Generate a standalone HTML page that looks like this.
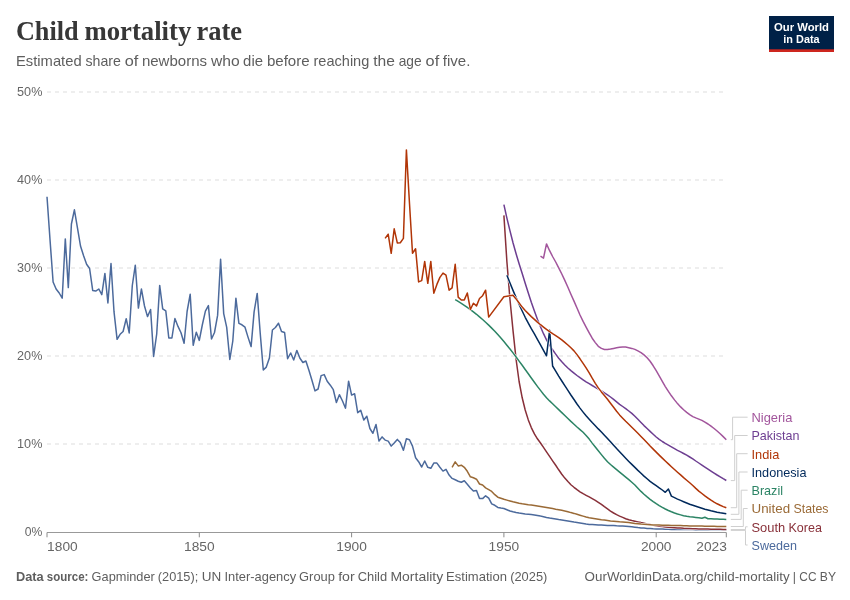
<!DOCTYPE html>
<html lang="en">
<head>
<meta charset="utf-8">
<title>Child mortality rate</title>
<style>
html,body{margin:0;padding:0;background:#fff;}
body{width:850px;height:600px;overflow:hidden;font-family:"Liberation Sans",sans-serif;}
svg{display:block;}
svg text{font-family:"Liberation Sans",sans-serif;}
svg text.serif{font-family:"Liberation Serif",serif;}
.grid line{stroke:#dddddd;stroke-width:1;stroke-dasharray:4,4;}
.lines path{fill:none;stroke-linejoin:round;stroke-linecap:butt;}
.conn path{fill:none;stroke:#cfcfcf;stroke-width:1;}
</style>
</head>
<body>
<svg width="850" height="600" viewBox="0 0 850 600">
<rect width="850" height="600" fill="#ffffff"/>

<text class="serif" y="40.2" font-size="28" font-weight="bold" fill="#373737"><tspan x="15.9" textLength="62.7" lengthAdjust="spacingAndGlyphs">Child</tspan> <tspan x="84.4" textLength="106.9" lengthAdjust="spacingAndGlyphs">mortality</tspan> <tspan x="196.4" textLength="45.6" lengthAdjust="spacingAndGlyphs">rate</tspan></text>
<text y="66.4" font-size="15" fill="#5e5e5e"><tspan x="16.0" textLength="65.6" lengthAdjust="spacingAndGlyphs">Estimated</tspan> <tspan x="85.5" textLength="35.4" lengthAdjust="spacingAndGlyphs">share</tspan> <tspan x="124.7" textLength="13.6" lengthAdjust="spacingAndGlyphs">of</tspan> <tspan x="141.9" textLength="65.2" lengthAdjust="spacingAndGlyphs">newborns</tspan> <tspan x="210.9" textLength="28.7" lengthAdjust="spacingAndGlyphs">who</tspan> <tspan x="243.1" textLength="19.9" lengthAdjust="spacingAndGlyphs">die</tspan> <tspan x="266.9" textLength="42.8" lengthAdjust="spacingAndGlyphs">before</tspan> <tspan x="313.5" textLength="55.8" lengthAdjust="spacingAndGlyphs">reaching</tspan> <tspan x="373.2" textLength="21.7" lengthAdjust="spacingAndGlyphs">the</tspan> <tspan x="398.7" textLength="23.0" lengthAdjust="spacingAndGlyphs">age</tspan> <tspan x="425.6" textLength="13.6" lengthAdjust="spacingAndGlyphs">of</tspan> <tspan x="442.8" textLength="27.6" lengthAdjust="spacingAndGlyphs">five.</tspan></text>
<g><rect x="769" y="16" width="65" height="36" fill="#002147"/><rect x="769" y="49.3" width="65" height="2.7" fill="#ce261e"/>
<text x="801.5" y="30.8" font-size="11.8" fill="#ffffff" text-anchor="middle" font-weight="bold" textLength="55" lengthAdjust="spacingAndGlyphs">Our World</text>
<text x="801.5" y="42.7" font-size="11.8" fill="#ffffff" text-anchor="middle" font-weight="bold" textLength="36.3" lengthAdjust="spacingAndGlyphs">in Data</text>
</g>
<g class="grid">
<line x1="47" y1="92" x2="726.3" y2="92"/>
<line x1="47" y1="180" x2="726.3" y2="180"/>
<line x1="47" y1="268" x2="726.3" y2="268"/>
<line x1="47" y1="356" x2="726.3" y2="356"/>
<line x1="47" y1="444" x2="726.3" y2="444"/>
</g>
<text x="42.4" y="96.1" font-size="12.65" fill="#666666" text-anchor="end" textLength="25.3" lengthAdjust="spacingAndGlyphs">50%</text>
<text x="42.4" y="184.1" font-size="12.65" fill="#666666" text-anchor="end" textLength="25.3" lengthAdjust="spacingAndGlyphs">40%</text>
<text x="42.4" y="272.1" font-size="12.65" fill="#666666" text-anchor="end" textLength="25.3" lengthAdjust="spacingAndGlyphs">30%</text>
<text x="42.4" y="360.1" font-size="12.65" fill="#666666" text-anchor="end" textLength="25.3" lengthAdjust="spacingAndGlyphs">20%</text>
<text x="42.4" y="448.1" font-size="12.65" fill="#666666" text-anchor="end" textLength="25.3" lengthAdjust="spacingAndGlyphs">10%</text>
<text x="42.4" y="536.1" font-size="12.65" fill="#666666" text-anchor="end" textLength="17.6" lengthAdjust="spacingAndGlyphs">0%</text>
<line x1="47" y1="532.5" x2="726.3" y2="532.5" stroke="#999999" stroke-width="1"/>
<line x1="47.0" y1="532.5" x2="47.0" y2="537.3" stroke="#8a8a8a" stroke-width="1"/>
<text x="47.1" y="550.8" font-size="13.1" fill="#666666" textLength="30.6" lengthAdjust="spacingAndGlyphs">1800</text>
<line x1="199.3" y1="532.5" x2="199.3" y2="537.3" stroke="#8a8a8a" stroke-width="1"/>
<text x="199.3" y="550.8" font-size="13.1" fill="#666666" text-anchor="middle" textLength="30.6" lengthAdjust="spacingAndGlyphs">1850</text>
<line x1="351.6" y1="532.5" x2="351.6" y2="537.3" stroke="#8a8a8a" stroke-width="1"/>
<text x="351.6" y="550.8" font-size="13.1" fill="#666666" text-anchor="middle" textLength="30.6" lengthAdjust="spacingAndGlyphs">1900</text>
<line x1="503.9" y1="532.5" x2="503.9" y2="537.3" stroke="#8a8a8a" stroke-width="1"/>
<text x="503.9" y="550.8" font-size="13.1" fill="#666666" text-anchor="middle" textLength="30.6" lengthAdjust="spacingAndGlyphs">1950</text>
<line x1="656.2" y1="532.5" x2="656.2" y2="537.3" stroke="#8a8a8a" stroke-width="1"/>
<text x="656.2" y="550.8" font-size="13.1" fill="#666666" text-anchor="middle" textLength="30.6" lengthAdjust="spacingAndGlyphs">2000</text>
<line x1="726.3" y1="532.5" x2="726.3" y2="537.3" stroke="#8a8a8a" stroke-width="1"/>
<text x="726.9" y="550.8" font-size="13.1" fill="#666666" text-anchor="end" textLength="30.6" lengthAdjust="spacingAndGlyphs">2023</text>
<g class="lines">
<path d="M47.0,196.8 L50.0,239.5 L53.1,282.0 L56.1,289.0 L59.2,293.0 L62.2,298.2 L65.3,238.9 L68.3,287.6 L71.4,224.0 L74.4,209.8 L77.5,228.2 L80.5,246.0 L83.6,255.8 L86.6,264.2 L89.6,268.5 L92.7,290.4 L95.7,291.1 L98.8,289.0 L101.8,294.7 L104.9,273.4 L107.9,302.9 L111.0,263.5 L114.0,311.7 L117.1,339.3 L120.1,334.3 L123.1,331.5 L126.2,318.7 L129.2,332.9 L132.3,285.5 L135.3,265.2 L138.4,308.1 L141.4,289.0 L144.5,306.0 L147.5,316.6 L150.6,309.5 L153.6,356.4 L156.7,334.0 L159.7,285.4 L162.7,308.8 L165.8,310.9 L168.8,338.0 L171.9,338.0 L174.9,318.5 L178.0,326.4 L181.0,332.7 L184.1,343.2 L187.1,311.5 L190.2,294.2 L193.2,345.3 L196.3,332.2 L199.3,340.4 L202.3,325.0 L205.4,311.2 L208.4,305.6 L211.5,339.0 L214.5,332.5 L217.6,315.4 L220.6,259.2 L223.7,313.6 L226.7,327.4 L229.8,359.5 L232.8,341.0 L235.9,298.2 L238.9,323.4 L241.9,324.8 L245.0,327.2 L248.0,337.1 L251.1,346.6 L254.1,311.9 L257.2,293.4 L260.2,333.0 L263.3,370.0 L266.3,367.1 L269.4,358.0 L272.4,330.0 L275.4,327.5 L278.5,323.2 L281.5,331.5 L284.6,332.5 L287.6,358.7 L290.7,353.0 L293.7,360.0 L296.8,350.4 L299.8,358.0 L302.9,362.5 L305.9,361.0 L309.0,370.5 L312.0,380.5 L315.0,390.9 L318.1,389.0 L321.1,375.6 L324.2,374.6 L327.2,381.2 L330.3,385.2 L333.3,389.7 L336.4,402.5 L339.4,394.7 L342.5,401.0 L345.5,408.2 L348.6,381.2 L351.6,395.1 L354.6,393.7 L357.7,412.7 L360.7,410.3 L363.8,420.0 L366.8,416.2 L369.9,428.5 L372.9,433.3 L376.0,424.5 L379.0,441.1 L382.1,436.9 L385.1,440.1 L388.2,441.1 L391.2,446.1 L394.2,443.0 L397.3,439.4 L400.3,442.5 L403.4,450.3 L406.4,438.7 L409.5,439.7 L412.5,446.1 L415.6,457.7 L418.6,461.7 L421.7,467.0 L424.7,461.0 L427.8,467.3 L430.8,468.3 L433.8,463.1 L436.9,463.1 L439.9,467.3 L443.0,471.1 L446.0,469.4 L449.1,475.1 L452.1,478.4 L455.2,479.8 L458.2,481.2 L461.3,482.2 L464.3,480.8 L467.3,484.3 L470.4,487.9 L473.4,491.0 L476.5,490.4 L479.5,498.6 L482.6,498.6 L485.6,495.8 L488.7,498.2 L491.7,503.9 L494.8,505.3 L497.8,507.4 L500.9,508.1 L503.9,508.5 L506.9,509.7 L510.0,511.0 L513.0,511.8 L516.1,512.5 L519.1,513.1 L522.2,513.5 L525.2,513.9 L528.3,514.2 L531.3,514.5 L534.4,514.9 L537.4,515.4 L540.5,516.1 L543.5,516.7 L546.5,517.4 L549.6,518.0 L552.6,518.5 L555.7,519.0 L558.7,519.5 L561.8,519.9 L564.8,520.4 L567.9,520.9 L570.9,521.4 L574.0,522.0 L577.0,522.5 L580.0,523.0 L583.1,523.5 L586.1,524.0 L589.2,524.4 L592.2,524.6 L595.3,524.8 L598.3,525.0 L601.4,525.1 L604.4,525.2 L607.5,525.4 L610.5,525.5 L613.6,525.6 L616.6,525.8 L619.6,525.9 L622.7,526.0 L625.7,526.2 L628.8,526.5 L631.8,526.8 L634.9,527.2 L637.9,527.6 L641.0,527.9 L644.0,528.1 L647.1,528.4 L650.1,528.6 L653.2,528.8 L656.2,528.9 L659.2,529.0 L662.3,529.1 L665.3,529.2 L668.4,529.3 L671.4,529.4 L674.5,529.5 L677.5,529.5 L680.6,529.5 L683.6,529.6 L686.7,529.6 L689.7,529.6 L692.8,529.6 L695.8,529.7 L698.8,529.7 L701.9,529.7 L704.9,529.7 L708.0,529.7 L711.0,529.8 L714.1,529.8 L717.1,529.8 L720.2,529.8 L723.2,529.8 L726.3,529.8" stroke="#ffffff" stroke-width="2.5"/>
<path d="M47.0,196.8 L50.0,239.5 L53.1,282.0 L56.1,289.0 L59.2,293.0 L62.2,298.2 L65.3,238.9 L68.3,287.6 L71.4,224.0 L74.4,209.8 L77.5,228.2 L80.5,246.0 L83.6,255.8 L86.6,264.2 L89.6,268.5 L92.7,290.4 L95.7,291.1 L98.8,289.0 L101.8,294.7 L104.9,273.4 L107.9,302.9 L111.0,263.5 L114.0,311.7 L117.1,339.3 L120.1,334.3 L123.1,331.5 L126.2,318.7 L129.2,332.9 L132.3,285.5 L135.3,265.2 L138.4,308.1 L141.4,289.0 L144.5,306.0 L147.5,316.6 L150.6,309.5 L153.6,356.4 L156.7,334.0 L159.7,285.4 L162.7,308.8 L165.8,310.9 L168.8,338.0 L171.9,338.0 L174.9,318.5 L178.0,326.4 L181.0,332.7 L184.1,343.2 L187.1,311.5 L190.2,294.2 L193.2,345.3 L196.3,332.2 L199.3,340.4 L202.3,325.0 L205.4,311.2 L208.4,305.6 L211.5,339.0 L214.5,332.5 L217.6,315.4 L220.6,259.2 L223.7,313.6 L226.7,327.4 L229.8,359.5 L232.8,341.0 L235.9,298.2 L238.9,323.4 L241.9,324.8 L245.0,327.2 L248.0,337.1 L251.1,346.6 L254.1,311.9 L257.2,293.4 L260.2,333.0 L263.3,370.0 L266.3,367.1 L269.4,358.0 L272.4,330.0 L275.4,327.5 L278.5,323.2 L281.5,331.5 L284.6,332.5 L287.6,358.7 L290.7,353.0 L293.7,360.0 L296.8,350.4 L299.8,358.0 L302.9,362.5 L305.9,361.0 L309.0,370.5 L312.0,380.5 L315.0,390.9 L318.1,389.0 L321.1,375.6 L324.2,374.6 L327.2,381.2 L330.3,385.2 L333.3,389.7 L336.4,402.5 L339.4,394.7 L342.5,401.0 L345.5,408.2 L348.6,381.2 L351.6,395.1 L354.6,393.7 L357.7,412.7 L360.7,410.3 L363.8,420.0 L366.8,416.2 L369.9,428.5 L372.9,433.3 L376.0,424.5 L379.0,441.1 L382.1,436.9 L385.1,440.1 L388.2,441.1 L391.2,446.1 L394.2,443.0 L397.3,439.4 L400.3,442.5 L403.4,450.3 L406.4,438.7 L409.5,439.7 L412.5,446.1 L415.6,457.7 L418.6,461.7 L421.7,467.0 L424.7,461.0 L427.8,467.3 L430.8,468.3 L433.8,463.1 L436.9,463.1 L439.9,467.3 L443.0,471.1 L446.0,469.4 L449.1,475.1 L452.1,478.4 L455.2,479.8 L458.2,481.2 L461.3,482.2 L464.3,480.8 L467.3,484.3 L470.4,487.9 L473.4,491.0 L476.5,490.4 L479.5,498.6 L482.6,498.6 L485.6,495.8 L488.7,498.2 L491.7,503.9 L494.8,505.3 L497.8,507.4 L500.9,508.1 L503.9,508.5 L506.9,509.7 L510.0,511.0 L513.0,511.8 L516.1,512.5 L519.1,513.1 L522.2,513.5 L525.2,513.9 L528.3,514.2 L531.3,514.5 L534.4,514.9 L537.4,515.4 L540.5,516.1 L543.5,516.7 L546.5,517.4 L549.6,518.0 L552.6,518.5 L555.7,519.0 L558.7,519.5 L561.8,519.9 L564.8,520.4 L567.9,520.9 L570.9,521.4 L574.0,522.0 L577.0,522.5 L580.0,523.0 L583.1,523.5 L586.1,524.0 L589.2,524.4 L592.2,524.6 L595.3,524.8 L598.3,525.0 L601.4,525.1 L604.4,525.2 L607.5,525.4 L610.5,525.5 L613.6,525.6 L616.6,525.8 L619.6,525.9 L622.7,526.0 L625.7,526.2 L628.8,526.5 L631.8,526.8 L634.9,527.2 L637.9,527.6 L641.0,527.9 L644.0,528.1 L647.1,528.4 L650.1,528.6 L653.2,528.8 L656.2,528.9 L659.2,529.0 L662.3,529.1 L665.3,529.2 L668.4,529.3 L671.4,529.4 L674.5,529.5 L677.5,529.5 L680.6,529.5 L683.6,529.6 L686.7,529.6 L689.7,529.6 L692.8,529.6 L695.8,529.7 L698.8,529.7 L701.9,529.7 L704.9,529.7 L708.0,529.7 L711.0,529.8 L714.1,529.8 L717.1,529.8 L720.2,529.8 L723.2,529.8 L726.3,529.8" stroke="#4c6a9c" stroke-width="1.5"/>
<path d="M503.9,215.4 L506.9,261.7 L510.0,299.7 L513.0,330.4 L516.1,359.5 L519.1,381.5 L522.2,397.8 L525.2,410.0 L528.3,419.9 L531.3,427.6 L534.4,433.9 L537.4,438.8 L540.5,443.0 L543.5,447.4 L546.5,451.9 L549.6,456.4 L552.6,460.8 L555.7,465.3 L558.7,469.8 L561.8,474.2 L564.8,478.1 L567.9,481.6 L570.9,484.7 L574.0,487.3 L577.0,489.7 L580.0,491.8 L583.1,493.7 L586.1,495.3 L589.2,496.9 L592.2,498.6 L595.3,500.3 L598.3,502.3 L601.4,504.4 L604.4,506.7 L607.5,508.9 L610.5,511.1 L613.6,513.0 L616.6,514.6 L619.6,516.1 L622.7,517.4 L625.7,518.7 L628.8,519.7 L631.8,520.5 L634.9,521.2 L637.9,521.9 L641.0,522.6 L644.0,523.2 L647.1,524.0 L650.1,524.6 L653.2,525.3 L656.2,525.8 L659.2,526.2 L662.3,526.6 L665.3,526.9 L668.4,527.2 L671.4,527.5 L674.5,527.7 L677.5,527.9 L680.6,528.1 L683.6,528.3 L686.7,528.4 L689.7,528.5 L692.8,528.7 L695.8,528.8 L698.8,528.9 L701.9,529.0 L704.9,529.0 L708.0,529.1 L711.0,529.2 L714.1,529.2 L717.1,529.3 L720.2,529.3 L723.2,529.4 L726.3,529.4" stroke="#ffffff" stroke-width="2.5"/>
<path d="M503.9,215.4 L506.9,261.7 L510.0,299.7 L513.0,330.4 L516.1,359.5 L519.1,381.5 L522.2,397.8 L525.2,410.0 L528.3,419.9 L531.3,427.6 L534.4,433.9 L537.4,438.8 L540.5,443.0 L543.5,447.4 L546.5,451.9 L549.6,456.4 L552.6,460.8 L555.7,465.3 L558.7,469.8 L561.8,474.2 L564.8,478.1 L567.9,481.6 L570.9,484.7 L574.0,487.3 L577.0,489.7 L580.0,491.8 L583.1,493.7 L586.1,495.3 L589.2,496.9 L592.2,498.6 L595.3,500.3 L598.3,502.3 L601.4,504.4 L604.4,506.7 L607.5,508.9 L610.5,511.1 L613.6,513.0 L616.6,514.6 L619.6,516.1 L622.7,517.4 L625.7,518.7 L628.8,519.7 L631.8,520.5 L634.9,521.2 L637.9,521.9 L641.0,522.6 L644.0,523.2 L647.1,524.0 L650.1,524.6 L653.2,525.3 L656.2,525.8 L659.2,526.2 L662.3,526.6 L665.3,526.9 L668.4,527.2 L671.4,527.5 L674.5,527.7 L677.5,527.9 L680.6,528.1 L683.6,528.3 L686.7,528.4 L689.7,528.5 L692.8,528.7 L695.8,528.8 L698.8,528.9 L701.9,529.0 L704.9,529.0 L708.0,529.1 L711.0,529.2 L714.1,529.2 L717.1,529.3 L720.2,529.3 L723.2,529.4 L726.3,529.4" stroke="#883039" stroke-width="1.5"/>
<path d="M503.9,204.7 L506.9,218.2 L510.0,230.9 L513.0,242.8 L516.1,253.8 L519.1,263.8 L522.2,273.5 L525.2,283.3 L528.3,293.1 L531.3,302.3 L534.4,311.1 L537.4,319.2 L540.5,326.7 L543.5,333.7 L546.5,339.9 L549.6,345.2 L552.6,349.8 L555.7,354.1 L558.7,358.2 L561.8,361.8 L564.8,365.0 L567.9,368.0 L570.9,370.6 L574.0,373.1 L577.0,375.5 L580.0,377.7 L583.1,379.8 L586.1,381.8 L589.2,383.7 L592.2,385.5 L595.3,387.3 L598.3,389.1 L601.4,391.0 L604.4,392.9 L607.5,394.9 L610.5,397.0 L613.6,399.3 L616.6,401.8 L619.6,404.3 L622.7,406.5 L625.7,408.7 L628.8,411.0 L631.8,413.4 L634.9,416.3 L637.9,419.3 L641.0,422.5 L644.0,425.6 L647.1,428.5 L650.1,431.4 L653.2,434.3 L656.2,437.0 L659.2,439.4 L662.3,441.5 L665.3,443.4 L668.4,445.2 L671.4,446.9 L674.5,448.6 L677.5,450.3 L680.6,451.9 L683.6,453.5 L686.7,455.2 L689.7,457.0 L692.8,458.9 L695.8,461.0 L698.8,463.0 L701.9,465.1 L704.9,467.1 L708.0,469.1 L711.0,471.1 L714.1,473.1 L717.1,475.0 L720.2,476.8 L723.2,478.7 L726.3,480.5" stroke="#ffffff" stroke-width="2.5"/>
<path d="M503.9,204.7 L506.9,218.2 L510.0,230.9 L513.0,242.8 L516.1,253.8 L519.1,263.8 L522.2,273.5 L525.2,283.3 L528.3,293.1 L531.3,302.3 L534.4,311.1 L537.4,319.2 L540.5,326.7 L543.5,333.7 L546.5,339.9 L549.6,345.2 L552.6,349.8 L555.7,354.1 L558.7,358.2 L561.8,361.8 L564.8,365.0 L567.9,368.0 L570.9,370.6 L574.0,373.1 L577.0,375.5 L580.0,377.7 L583.1,379.8 L586.1,381.8 L589.2,383.7 L592.2,385.5 L595.3,387.3 L598.3,389.1 L601.4,391.0 L604.4,392.9 L607.5,394.9 L610.5,397.0 L613.6,399.3 L616.6,401.8 L619.6,404.3 L622.7,406.5 L625.7,408.7 L628.8,411.0 L631.8,413.4 L634.9,416.3 L637.9,419.3 L641.0,422.5 L644.0,425.6 L647.1,428.5 L650.1,431.4 L653.2,434.3 L656.2,437.0 L659.2,439.4 L662.3,441.5 L665.3,443.4 L668.4,445.2 L671.4,446.9 L674.5,448.6 L677.5,450.3 L680.6,451.9 L683.6,453.5 L686.7,455.2 L689.7,457.0 L692.8,458.9 L695.8,461.0 L698.8,463.0 L701.9,465.1 L704.9,467.1 L708.0,469.1 L711.0,471.1 L714.1,473.1 L717.1,475.0 L720.2,476.8 L723.2,478.7 L726.3,480.5" stroke="#6d3e91" stroke-width="1.5"/>
<path d="M540.5,256.2 L543.5,258.1 L546.5,243.9 L549.6,250.7 L552.6,256.5 L555.7,262.0 L558.7,267.9 L561.8,274.0 L564.8,280.4 L567.9,287.3 L570.9,294.2 L574.0,301.1 L577.0,308.0 L580.0,315.0 L583.1,321.4 L586.1,327.1 L589.2,332.8 L592.2,338.2 L595.3,342.6 L598.3,346.3 L601.4,348.4 L604.4,349.5 L607.5,349.5 L610.5,349.1 L613.6,348.4 L616.6,347.8 L619.6,347.2 L622.7,346.9 L625.7,347.1 L628.8,347.7 L631.8,348.4 L634.9,349.4 L637.9,350.9 L641.0,352.6 L644.0,354.9 L647.1,357.7 L650.1,361.3 L653.2,365.8 L656.2,370.7 L659.2,375.8 L662.3,381.3 L665.3,386.6 L668.4,391.4 L671.4,395.8 L674.5,399.9 L677.5,403.6 L680.6,406.9 L683.6,409.8 L686.7,412.4 L689.7,414.7 L692.8,416.6 L695.8,417.9 L698.8,419.1 L701.9,420.4 L704.9,422.1 L708.0,424.0 L711.0,426.2 L714.1,428.5 L717.1,431.0 L720.2,433.7 L723.2,436.6 L726.3,439.7" stroke="#ffffff" stroke-width="2.5"/>
<path d="M540.5,256.2 L543.5,258.1 L546.5,243.9 L549.6,250.7 L552.6,256.5 L555.7,262.0 L558.7,267.9 L561.8,274.0 L564.8,280.4 L567.9,287.3 L570.9,294.2 L574.0,301.1 L577.0,308.0 L580.0,315.0 L583.1,321.4 L586.1,327.1 L589.2,332.8 L592.2,338.2 L595.3,342.6 L598.3,346.3 L601.4,348.4 L604.4,349.5 L607.5,349.5 L610.5,349.1 L613.6,348.4 L616.6,347.8 L619.6,347.2 L622.7,346.9 L625.7,347.1 L628.8,347.7 L631.8,348.4 L634.9,349.4 L637.9,350.9 L641.0,352.6 L644.0,354.9 L647.1,357.7 L650.1,361.3 L653.2,365.8 L656.2,370.7 L659.2,375.8 L662.3,381.3 L665.3,386.6 L668.4,391.4 L671.4,395.8 L674.5,399.9 L677.5,403.6 L680.6,406.9 L683.6,409.8 L686.7,412.4 L689.7,414.7 L692.8,416.6 L695.8,417.9 L698.8,419.1 L701.9,420.4 L704.9,422.1 L708.0,424.0 L711.0,426.2 L714.1,428.5 L717.1,431.0 L720.2,433.7 L723.2,436.6 L726.3,439.7" stroke="#a2559c" stroke-width="1.5"/>
<path d="M452.1,467.3 L455.2,461.9 L458.2,465.9 L461.3,465.2 L464.3,467.3 L467.3,471.3 L470.4,476.8 L473.4,477.8 L476.5,479.2 L479.5,484.0 L482.6,485.0 L485.6,487.9 L488.7,489.7 L491.7,491.4 L494.8,494.7 L497.8,497.2 L500.9,498.2 L503.9,499.2 L506.9,500.1 L510.0,501.0 L513.0,501.8 L516.1,502.5 L519.1,503.2 L522.2,503.8 L525.2,504.2 L528.3,504.7 L531.3,505.1 L534.4,505.6 L537.4,506.1 L540.5,506.6 L543.5,507.1 L546.5,507.6 L549.6,508.1 L552.6,508.6 L555.7,509.2 L558.7,509.7 L561.8,510.3 L564.8,511.0 L567.9,511.7 L570.9,512.6 L574.0,513.4 L577.0,514.3 L580.0,515.2 L583.1,516.1 L586.1,517.0 L589.2,517.7 L592.2,518.2 L595.3,518.7 L598.3,519.2 L601.4,519.7 L604.4,520.1 L607.5,520.5 L610.5,520.9 L613.6,521.2 L616.6,521.5 L619.6,521.8 L622.7,522.0 L625.7,522.3 L628.8,522.6 L631.8,523.0 L634.9,523.4 L637.9,523.7 L641.0,524.0 L644.0,524.2 L647.1,524.5 L650.1,524.7 L653.2,524.9 L656.2,525.0 L659.2,525.1 L662.3,525.2 L665.3,525.3 L668.4,525.3 L671.4,525.4 L674.5,525.5 L677.5,525.6 L680.6,525.6 L683.6,525.7 L686.7,525.8 L689.7,525.9 L692.8,525.9 L695.8,526.0 L698.8,526.1 L701.9,526.1 L704.9,526.2 L708.0,526.2 L711.0,526.3 L714.1,526.3 L717.1,526.4 L720.2,526.4 L723.2,526.5 L726.3,526.5" stroke="#ffffff" stroke-width="2.5"/>
<path d="M452.1,467.3 L455.2,461.9 L458.2,465.9 L461.3,465.2 L464.3,467.3 L467.3,471.3 L470.4,476.8 L473.4,477.8 L476.5,479.2 L479.5,484.0 L482.6,485.0 L485.6,487.9 L488.7,489.7 L491.7,491.4 L494.8,494.7 L497.8,497.2 L500.9,498.2 L503.9,499.2 L506.9,500.1 L510.0,501.0 L513.0,501.8 L516.1,502.5 L519.1,503.2 L522.2,503.8 L525.2,504.2 L528.3,504.7 L531.3,505.1 L534.4,505.6 L537.4,506.1 L540.5,506.6 L543.5,507.1 L546.5,507.6 L549.6,508.1 L552.6,508.6 L555.7,509.2 L558.7,509.7 L561.8,510.3 L564.8,511.0 L567.9,511.7 L570.9,512.6 L574.0,513.4 L577.0,514.3 L580.0,515.2 L583.1,516.1 L586.1,517.0 L589.2,517.7 L592.2,518.2 L595.3,518.7 L598.3,519.2 L601.4,519.7 L604.4,520.1 L607.5,520.5 L610.5,520.9 L613.6,521.2 L616.6,521.5 L619.6,521.8 L622.7,522.0 L625.7,522.3 L628.8,522.6 L631.8,523.0 L634.9,523.4 L637.9,523.7 L641.0,524.0 L644.0,524.2 L647.1,524.5 L650.1,524.7 L653.2,524.9 L656.2,525.0 L659.2,525.1 L662.3,525.2 L665.3,525.3 L668.4,525.3 L671.4,525.4 L674.5,525.5 L677.5,525.6 L680.6,525.6 L683.6,525.7 L686.7,525.8 L689.7,525.9 L692.8,525.9 L695.8,526.0 L698.8,526.1 L701.9,526.1 L704.9,526.2 L708.0,526.2 L711.0,526.3 L714.1,526.3 L717.1,526.4 L720.2,526.4 L723.2,526.5 L726.3,526.5" stroke="#9a6a36" stroke-width="1.5"/>
<path d="M455.2,299.6 L458.2,301.4 L461.3,303.3 L464.3,305.3 L467.3,307.4 L470.4,309.6 L473.4,311.9 L476.5,314.3 L479.5,316.9 L482.6,319.5 L485.6,322.2 L488.7,325.1 L491.7,328.1 L494.8,331.2 L497.8,334.6 L500.9,338.0 L503.9,341.6 L506.9,345.3 L510.0,349.0 L513.0,352.9 L516.1,357.0 L519.1,361.1 L522.2,365.3 L525.2,369.5 L528.3,373.8 L531.3,378.0 L534.4,382.3 L537.4,386.4 L540.5,390.4 L543.5,394.2 L546.5,397.7 L549.6,400.9 L552.6,403.8 L555.7,406.7 L558.7,409.6 L561.8,412.6 L564.8,415.5 L567.9,418.5 L570.9,421.4 L574.0,424.2 L577.0,427.0 L580.0,429.6 L583.1,432.3 L586.1,435.4 L589.2,439.1 L592.2,443.1 L595.3,447.0 L598.3,450.8 L601.4,454.6 L604.4,458.3 L607.5,461.7 L610.5,464.5 L613.6,467.1 L616.6,469.6 L619.6,472.1 L622.7,474.6 L625.7,477.1 L628.8,479.6 L631.8,482.2 L634.9,485.0 L637.9,488.2 L641.0,491.4 L644.0,494.3 L647.1,496.9 L650.1,499.3 L653.2,501.6 L656.2,503.7 L659.2,505.6 L662.3,507.4 L665.3,509.0 L668.4,510.5 L671.4,511.8 L674.5,513.0 L677.5,514.0 L680.6,514.9 L683.6,515.7 L686.7,516.3 L689.7,516.8 L692.8,517.1 L695.8,517.4 L698.8,517.8 L701.9,518.3 L704.9,517.3 L708.0,518.7 L711.0,518.8 L714.1,519.0 L717.1,519.1 L720.2,519.2 L723.2,519.3 L726.3,519.4" stroke="#ffffff" stroke-width="2.5"/>
<path d="M455.2,299.6 L458.2,301.4 L461.3,303.3 L464.3,305.3 L467.3,307.4 L470.4,309.6 L473.4,311.9 L476.5,314.3 L479.5,316.9 L482.6,319.5 L485.6,322.2 L488.7,325.1 L491.7,328.1 L494.8,331.2 L497.8,334.6 L500.9,338.0 L503.9,341.6 L506.9,345.3 L510.0,349.0 L513.0,352.9 L516.1,357.0 L519.1,361.1 L522.2,365.3 L525.2,369.5 L528.3,373.8 L531.3,378.0 L534.4,382.3 L537.4,386.4 L540.5,390.4 L543.5,394.2 L546.5,397.7 L549.6,400.9 L552.6,403.8 L555.7,406.7 L558.7,409.6 L561.8,412.6 L564.8,415.5 L567.9,418.5 L570.9,421.4 L574.0,424.2 L577.0,427.0 L580.0,429.6 L583.1,432.3 L586.1,435.4 L589.2,439.1 L592.2,443.1 L595.3,447.0 L598.3,450.8 L601.4,454.6 L604.4,458.3 L607.5,461.7 L610.5,464.5 L613.6,467.1 L616.6,469.6 L619.6,472.1 L622.7,474.6 L625.7,477.1 L628.8,479.6 L631.8,482.2 L634.9,485.0 L637.9,488.2 L641.0,491.4 L644.0,494.3 L647.1,496.9 L650.1,499.3 L653.2,501.6 L656.2,503.7 L659.2,505.6 L662.3,507.4 L665.3,509.0 L668.4,510.5 L671.4,511.8 L674.5,513.0 L677.5,514.0 L680.6,514.9 L683.6,515.7 L686.7,516.3 L689.7,516.8 L692.8,517.1 L695.8,517.4 L698.8,517.8 L701.9,518.3 L704.9,517.3 L708.0,518.7 L711.0,518.8 L714.1,519.0 L717.1,519.1 L720.2,519.2 L723.2,519.3 L726.3,519.4" stroke="#2c8465" stroke-width="1.5"/>
<path d="M506.9,275.2 L510.0,283.0 L513.0,290.4 L516.1,297.6 L519.1,304.4 L522.2,311.0 L525.2,317.3 L528.3,323.2 L531.3,328.7 L534.4,333.9 L537.4,339.3 L540.5,344.8 L543.5,350.4 L546.5,355.8 L549.6,330.3 L552.6,366.0 L555.7,371.1 L558.7,376.1 L561.8,381.0 L564.8,385.7 L567.9,390.4 L570.9,395.0 L574.0,399.5 L577.0,404.0 L580.0,408.1 L583.1,412.1 L586.1,415.8 L589.2,419.2 L592.2,422.5 L595.3,425.7 L598.3,428.9 L601.4,432.0 L604.4,435.2 L607.5,438.5 L610.5,441.8 L613.6,445.2 L616.6,448.6 L619.6,451.8 L622.7,455.1 L625.7,458.2 L628.8,461.4 L631.8,464.4 L634.9,467.4 L637.9,470.4 L641.0,473.3 L644.0,476.1 L647.1,478.8 L650.1,481.4 L653.2,483.6 L656.2,485.7 L659.2,487.8 L662.3,490.0 L665.3,492.3 L668.4,489.0 L671.4,496.1 L674.5,497.6 L677.5,499.1 L680.6,500.4 L683.6,501.7 L686.7,503.0 L689.7,504.2 L692.8,505.3 L695.8,506.3 L698.8,507.3 L701.9,508.3 L704.9,509.2 L708.0,510.0 L711.0,510.8 L714.1,511.5 L717.1,512.2 L720.2,512.8 L723.2,513.3 L726.3,513.8" stroke="#ffffff" stroke-width="2.5"/>
<path d="M506.9,275.2 L510.0,283.0 L513.0,290.4 L516.1,297.6 L519.1,304.4 L522.2,311.0 L525.2,317.3 L528.3,323.2 L531.3,328.7 L534.4,333.9 L537.4,339.3 L540.5,344.8 L543.5,350.4 L546.5,355.8 L549.6,330.3 L552.6,366.0 L555.7,371.1 L558.7,376.1 L561.8,381.0 L564.8,385.7 L567.9,390.4 L570.9,395.0 L574.0,399.5 L577.0,404.0 L580.0,408.1 L583.1,412.1 L586.1,415.8 L589.2,419.2 L592.2,422.5 L595.3,425.7 L598.3,428.9 L601.4,432.0 L604.4,435.2 L607.5,438.5 L610.5,441.8 L613.6,445.2 L616.6,448.6 L619.6,451.8 L622.7,455.1 L625.7,458.2 L628.8,461.4 L631.8,464.4 L634.9,467.4 L637.9,470.4 L641.0,473.3 L644.0,476.1 L647.1,478.8 L650.1,481.4 L653.2,483.6 L656.2,485.7 L659.2,487.8 L662.3,490.0 L665.3,492.3 L668.4,489.0 L671.4,496.1 L674.5,497.6 L677.5,499.1 L680.6,500.4 L683.6,501.7 L686.7,503.0 L689.7,504.2 L692.8,505.3 L695.8,506.3 L698.8,507.3 L701.9,508.3 L704.9,509.2 L708.0,510.0 L711.0,510.8 L714.1,511.5 L717.1,512.2 L720.2,512.8 L723.2,513.3 L726.3,513.8" stroke="#00295b" stroke-width="1.5"/>
<path d="M385.1,238.4 L388.2,234.2 L391.2,253.3 L394.2,228.8 L397.3,242.9 L400.3,242.7 L403.4,238.4 L406.4,149.9 L409.5,203.5 L412.5,253.3 L415.6,248.8 L418.6,281.9 L421.7,280.6 L424.7,261.4 L427.8,283.3 L430.8,261.4 L433.8,293.2 L436.9,284.4 L439.9,277.4 L443.0,273.1 L446.0,275.2 L449.1,290.2 L452.1,287.9 L455.2,264.3 L458.2,297.1 L461.3,300.0 L464.3,299.9 L467.3,293.0 L470.4,309.5 L473.4,303.2 L476.5,305.9 L479.5,298.5 L482.6,295.7 L485.6,290.2 L488.7,317.1 L503.9,296.8 L513.0,295.2 L516.1,298.9 L519.1,303.0 L522.2,307.1 L525.2,310.5 L528.3,313.6 L531.3,316.6 L534.4,319.4 L537.4,322.1 L540.5,324.7 L543.5,327.1 L546.5,329.4 L549.6,331.7 L552.6,333.7 L555.7,335.6 L558.7,337.6 L561.8,339.9 L564.8,342.4 L567.9,345.0 L570.9,347.8 L574.0,350.9 L577.0,354.6 L580.0,358.8 L583.1,363.4 L586.1,367.9 L589.2,372.9 L592.2,378.2 L595.3,383.3 L598.3,387.9 L601.4,391.9 L604.4,395.5 L607.5,399.3 L610.5,403.2 L613.6,407.2 L616.6,411.2 L619.6,414.9 L622.7,418.2 L625.7,421.3 L628.8,424.3 L631.8,427.2 L634.9,430.2 L637.9,433.2 L641.0,436.4 L644.0,439.6 L647.1,442.8 L650.1,446.0 L653.2,449.1 L656.2,452.1 L659.2,455.1 L662.3,458.1 L665.3,461.0 L668.4,463.9 L671.4,466.7 L674.5,469.5 L677.5,472.2 L680.6,474.9 L683.6,477.6 L686.7,480.2 L689.7,482.8 L692.8,485.5 L695.8,488.4 L698.8,491.1 L701.9,493.5 L704.9,495.9 L708.0,498.1 L711.0,500.2 L714.1,502.1 L717.1,503.8 L720.2,505.3 L723.2,506.6 L726.3,507.8" stroke="#ffffff" stroke-width="2.5"/>
<path d="M385.1,238.4 L388.2,234.2 L391.2,253.3 L394.2,228.8 L397.3,242.9 L400.3,242.7 L403.4,238.4 L406.4,149.9 L409.5,203.5 L412.5,253.3 L415.6,248.8 L418.6,281.9 L421.7,280.6 L424.7,261.4 L427.8,283.3 L430.8,261.4 L433.8,293.2 L436.9,284.4 L439.9,277.4 L443.0,273.1 L446.0,275.2 L449.1,290.2 L452.1,287.9 L455.2,264.3 L458.2,297.1 L461.3,300.0 L464.3,299.9 L467.3,293.0 L470.4,309.5 L473.4,303.2 L476.5,305.9 L479.5,298.5 L482.6,295.7 L485.6,290.2 L488.7,317.1 L503.9,296.8 L513.0,295.2 L516.1,298.9 L519.1,303.0 L522.2,307.1 L525.2,310.5 L528.3,313.6 L531.3,316.6 L534.4,319.4 L537.4,322.1 L540.5,324.7 L543.5,327.1 L546.5,329.4 L549.6,331.7 L552.6,333.7 L555.7,335.6 L558.7,337.6 L561.8,339.9 L564.8,342.4 L567.9,345.0 L570.9,347.8 L574.0,350.9 L577.0,354.6 L580.0,358.8 L583.1,363.4 L586.1,367.9 L589.2,372.9 L592.2,378.2 L595.3,383.3 L598.3,387.9 L601.4,391.9 L604.4,395.5 L607.5,399.3 L610.5,403.2 L613.6,407.2 L616.6,411.2 L619.6,414.9 L622.7,418.2 L625.7,421.3 L628.8,424.3 L631.8,427.2 L634.9,430.2 L637.9,433.2 L641.0,436.4 L644.0,439.6 L647.1,442.8 L650.1,446.0 L653.2,449.1 L656.2,452.1 L659.2,455.1 L662.3,458.1 L665.3,461.0 L668.4,463.9 L671.4,466.7 L674.5,469.5 L677.5,472.2 L680.6,474.9 L683.6,477.6 L686.7,480.2 L689.7,482.8 L692.8,485.5 L695.8,488.4 L698.8,491.1 L701.9,493.5 L704.9,495.9 L708.0,498.1 L711.0,500.2 L714.1,502.1 L717.1,503.8 L720.2,505.3 L723.2,506.6 L726.3,507.8" stroke="#b13507" stroke-width="1.5"/>
</g>
<g class="conn">
<path d="M730.8,439.7 H732.6 V417.2 H747.6"/>
<path d="M730.8,480.6 H734.7 V435.5 H747.6"/>
<path d="M730.8,507.7 H736.7 V453.7 H747.6"/>
<path d="M730.8,514.3 H738.9 V472.0 H747.6"/>
<path d="M730.8,519.4 H741.2 V490.2 H747.6"/>
<path d="M730.8,526.5 H743.3 V508.5 H747.6"/>
<path d="M730.8,529.6 H745.5 V526.8 H747.6"/>
<path d="M730.8,530.4 H745.5 V545.0 H747.6"/>
</g>
<text y="422.1" font-size="13.5" fill="#a2559c"><tspan x="751.5" textLength="40.9" lengthAdjust="spacingAndGlyphs">Nigeria</tspan></text>
<text y="440.4" font-size="13.5" fill="#6d3e91"><tspan x="751.5" textLength="48.0" lengthAdjust="spacingAndGlyphs">Pakistan</tspan></text>
<text y="458.6" font-size="13.5" fill="#b13507"><tspan x="751.5" textLength="27.8" lengthAdjust="spacingAndGlyphs">India</tspan></text>
<text y="476.9" font-size="13.5" fill="#00295b"><tspan x="751.5" textLength="55.0" lengthAdjust="spacingAndGlyphs">Indonesia</tspan></text>
<text y="495.1" font-size="13.5" fill="#2c8465"><tspan x="751.5" textLength="31.5" lengthAdjust="spacingAndGlyphs">Brazil</tspan></text>
<text y="513.4" font-size="13.5" fill="#9a6a36"><tspan x="751.5" textLength="38.6" lengthAdjust="spacingAndGlyphs">United</tspan> <tspan x="793.5" textLength="35.0" lengthAdjust="spacingAndGlyphs">States</tspan></text>
<text y="531.7" font-size="13.5" fill="#883039"><tspan x="751.5" textLength="33.7" lengthAdjust="spacingAndGlyphs">South</tspan> <tspan x="788.5" textLength="33.4" lengthAdjust="spacingAndGlyphs">Korea</tspan></text>
<text y="549.9" font-size="13.5" fill="#4c6a9c"><tspan x="751.5" textLength="45.4" lengthAdjust="spacingAndGlyphs">Sweden</tspan></text>
<text y="580.8" font-size="13" fill="#5e5e5e" font-weight="bold"><tspan x="16.0" textLength="27.7" lengthAdjust="spacingAndGlyphs">Data</tspan> <tspan x="46.8" textLength="41.6" lengthAdjust="spacingAndGlyphs">source:</tspan></text>
<text y="580.8" font-size="13" fill="#5e5e5e"><tspan x="91.6" textLength="63.2" lengthAdjust="spacingAndGlyphs">Gapminder</tspan> <tspan x="157.8" textLength="40.5" lengthAdjust="spacingAndGlyphs">(2015);</tspan> <tspan x="201.7" textLength="19.5" lengthAdjust="spacingAndGlyphs">UN</tspan> <tspan x="224.5" textLength="71.6" lengthAdjust="spacingAndGlyphs">Inter-agency</tspan> <tspan x="299.1" textLength="35.8" lengthAdjust="spacingAndGlyphs">Group</tspan> <tspan x="338.2" textLength="16.5" lengthAdjust="spacingAndGlyphs">for</tspan> <tspan x="357.7" textLength="29.4" lengthAdjust="spacingAndGlyphs">Child</tspan> <tspan x="390.5" textLength="52.7" lengthAdjust="spacingAndGlyphs">Mortality</tspan> <tspan x="446.1" textLength="60.8" lengthAdjust="spacingAndGlyphs">Estimation</tspan> <tspan x="510.2" textLength="37.1" lengthAdjust="spacingAndGlyphs">(2025)</tspan></text>
<text y="580.8" font-size="13" fill="#5e5e5e"><tspan x="584.6" textLength="205.1" lengthAdjust="spacingAndGlyphs">OurWorldinData.org/child-mortality</tspan> <tspan x="792.7" textLength="3.2" lengthAdjust="spacingAndGlyphs">|</tspan> <tspan x="799.3" textLength="17.2" lengthAdjust="spacingAndGlyphs">CC</tspan> <tspan x="819.8" textLength="16.2" lengthAdjust="spacingAndGlyphs">BY</tspan></text>
</svg>
</body>
</html>
